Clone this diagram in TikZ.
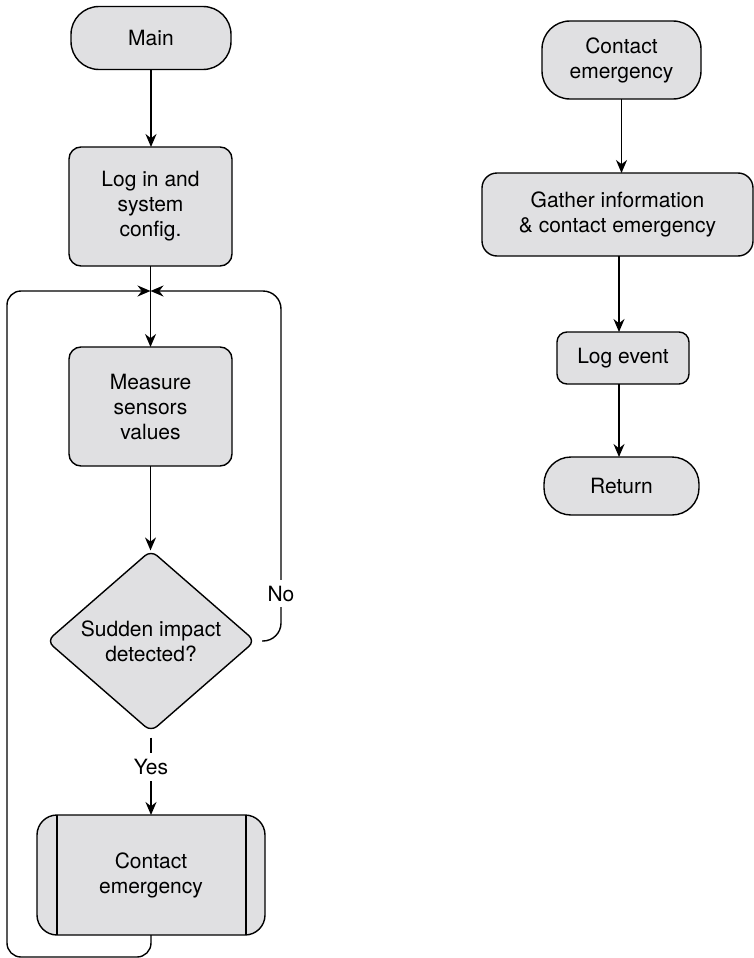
\documentclass[tikz,border=0pt]{standalone}
\usepackage{fontspec}
\setmainfont{TeX Gyre Heros}
\usetikzlibrary{arrows.meta,shapes.geometric,calc}
\definecolor{boxgray}{RGB}{224,224,226}
\begin{document}
\begin{tikzpicture}[x=1pt,y=-1pt,
  every node/.style={font=\fontsize{21}{25}\selectfont},
  box/.style={draw, line width=1.4pt, fill=boxgray, align=center, inner sep=0pt, outer sep=0pt},
  arr/.style={line width=1.4pt, -{Stealth[length=13pt,width=11pt]}},
  conn/.style={line width=1.4pt},
  lbl/.style={fill=white, inner xsep=2pt, inner ysep=6pt}]
\useasboundingbox (0,0) rectangle (754,958);

% left column
\node[box, rounded corners=28pt, minimum width=160pt, minimum height=63pt] (main) at (151,38) {Main};
\node[box, rounded corners=12pt, minimum width=163pt, minimum height=119pt] (login) at (150.5,206.5) {Log in and\\system\\config.};
\node[box, rounded corners=12pt, minimum width=163pt, minimum height=119pt] (measure) at (150.5,406.5) {Measure\\sensors\\values};
\node[box, diamond, rounded corners=8pt, minimum width=208pt, minimum height=180pt] (dia) at (151,641) {Sudden impact\\detected?};
\node[box, rounded corners=20pt, minimum width=228pt, minimum height=120pt] (cp) at (151,875) {Contact\\emergency};
\draw[conn] ($(cp.north west)+(20,0)$) -- ($(cp.south west)+(20,0)$);
\draw[conn] ($(cp.north east)+(-19,0)$) -- ($(cp.south east)+(-19,0)$);

\coordinate (m) at (150.5,291);
\coordinate (nob) at (281,641);
\coordinate (not) at (281,291);
\coordinate (lb) at (151,957);
\coordinate (lc) at (7,957);
\coordinate (lt) at (7,291);

\draw[arr] (main.south) -- (main.south |- login.north);
\draw[arr] (login.south) -- (measure.north);
\draw[arr] (measure.south) -- (measure.south |- dia.north);
\draw[arr] ([yshift=-6pt]dia.south) -- node[lbl, pos=0.38] (yes) {Yes} (dia.south |- cp.north);
\draw[arr, rounded corners=18pt] ([xshift=7pt]dia.east) -- (nob) -- (not) -- (m);
\node[lbl] (no) at (281,593.5) {No};
\draw[arr, rounded corners=14pt] (cp.south) -- (lb) -- (lc) -- (lt) -- (m);

% right column
\node[box, rounded corners=28pt, minimum width=159pt, minimum height=78pt] (ce) at (621.5,60) {Contact\\emergency};
\node[box, rounded corners=15pt, minimum width=271pt, minimum height=83pt] (gather) at (617.5,214.5) {Gather information\\\& contact emergency};
\node[box, rounded corners=10pt, minimum width=132pt, minimum height=52pt] (logev) at (623,358) {Log event};
\node[box, rounded corners=27pt, minimum width=155pt, minimum height=58pt] (ret) at (621.5,486) {Return};

\draw[arr] (ce.south) -- (ce.south |- gather.north);
\draw[arr] ([xshift=1.5pt]gather.south) -- ([xshift=1.5pt]gather.south |- logev.north);
\draw[arr] ([xshift=-4pt]logev.south) -- ([xshift=-4pt]logev.south |- ret.north);
\end{tikzpicture}
\end{document}
